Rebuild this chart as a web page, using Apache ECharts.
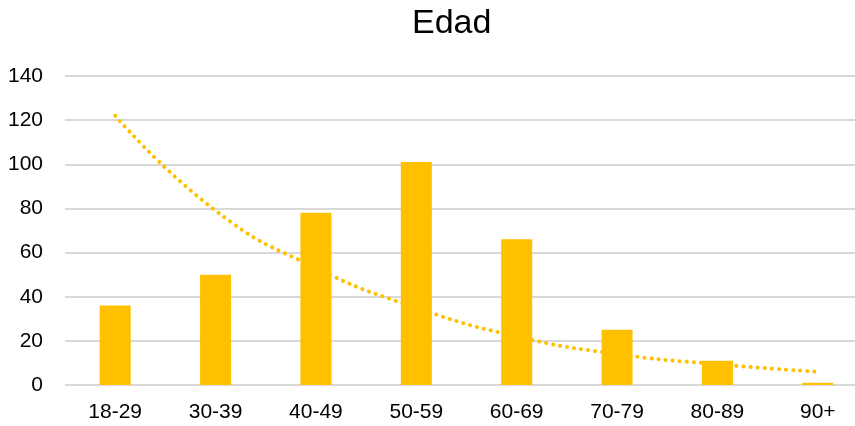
<!DOCTYPE html>
<html>
<head>
<meta charset="utf-8">
<script src="https://cdn.jsdelivr.net/npm/echarts@6/dist/echarts.min.js"></script>
<style>
html,body{margin:0;padding:0;background:#fff;overflow:hidden;width:855px;height:426px;}
#c{width:868px;height:426px;}
</style>
</head>
<body>
<div id="c"></div>
<script>
const categories = ['18-29','30-39','40-49','50-59','60-69','70-79','80-89','90+'];
const counts = [36, 50, 78, 101, 66, 25, 11, 1];
const trend = [122, 79, 53, 35, 22, 14, 9.4, 6];
const yTicks = {min: 0, max: 140, interval: 20};
const FONT = '"Liberation Sans", Arial, sans-serif';

const chart = echarts.init(document.getElementById('c'), null, {renderer: 'canvas'});
chart.setOption({
  animation: false,
  title: {
    text: 'Edad',
    left: 407,
    top: 2,
    textStyle: {fontFamily: FONT, fontSize: 34, fontWeight: 'normal', color: '#000'}
  },
  grid: {left: 65, top: 76, bottom: 41, right: 0, containLabel: false},
  xAxis: {
    type: 'category',
    data: categories,
    axisLine: {show: false},
    axisTick: {show: false},
    axisLabel: {fontFamily: FONT, fontSize: 21, color: '#000', margin: 17, interval: 0}
  },
  yAxis: {
    type: 'value',
    min: yTicks.min, max: yTicks.max, interval: yTicks.interval,
    axisLine: {show: false},
    axisTick: {show: false},
    axisLabel: {fontFamily: FONT, fontSize: 21, color: '#000', margin: 22},
    splitLine: {lineStyle: {color: '#D9D9D9', width: 2}}
  },
  series: [
    {
      type: 'bar',
      data: counts,
      barWidth: 31,
      itemStyle: {color: '#FFC000'}
    },
    {
      type: 'line',
      data: trend,
      smooth: true,
      symbol: 'none',
      z: 3,
      lineStyle: {color: '#FFC000', width: 4, type: [0.1, 7], cap: 'round'}
    }
  ]
});
</script>
</body>
</html>
